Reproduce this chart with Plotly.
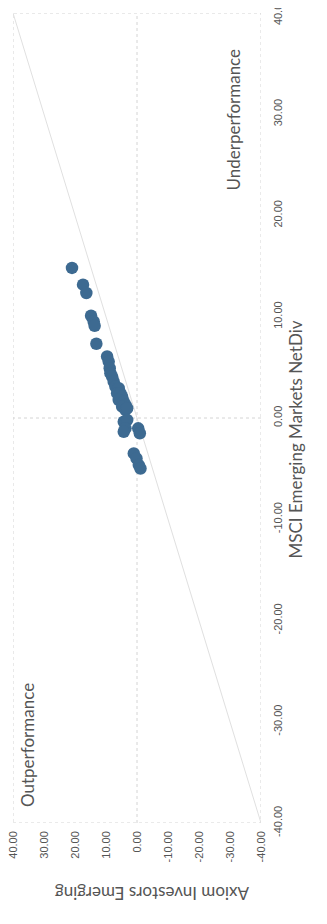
import plotly.graph_objects as go

# Data: (Axiom Investors Emerging, MSCI Emerging Markets NetDiv) return pairs
axiom = [20.97, 17.41, 16.34, 14.82, 13.98, 13.66, 13.11, 9.64, 9.13, 8.80, 8.58,
         8.03, 7.51, 6.96, 5.89, 6.41, 5.34, 4.79, 5.89, 4.27, 3.72, 4.79, 3.72,
         3.17, 4.27, 3.17, 3.72, 4.27, -0.39, -0.91, 1.04, 0.16, -0.58, -1.13]
msci = [14.82, 13.17, 12.35, 10.10, 9.53, 9.11, 7.33, 6.07, 5.57, 4.92, 4.43,
        4.09, 3.59, 3.10, 2.94, 2.45, 2.45, 2.11, 1.78, 1.61, 1.29, 1.12, 0.79,
        0.96, -0.37, -0.20, -1.02, -1.36, -1.02, -1.51, -3.50, -3.99, -4.65, -4.99]

diag_x = [-40, 40]
diag_y = [-40, 40]

tick_vals = [-40, -30, -20, -10, 0, 10, 20, 30, 40]
tick_text = ["-40.00", "-30.00", "-20.00", "-10.00", "0.00", "10.00", "20.00", "30.00", "40.00"]

x_title = "Axiom Investors Emerging"
y_title = "MSCI Emerging Markets NetDiv"
label_out = "Outperformance"
label_under = "Underperformance"

grid_col = "#d4d4d4"
title_font = "Lato"
tick_font = "Liberation Sans"
text_col = "#555555"

fig = go.Figure()
fig.add_trace(go.Scatter(x=diag_x, y=diag_y, mode="lines",
                         line=dict(color="#e0e0e0", width=1), hoverinfo="skip",
                         showlegend=False))
fig.add_trace(go.Scatter(x=axiom, y=msci, mode="markers",
                         marker=dict(color="#3d6a91", size=12.5, line=dict(width=0)),
                         showlegend=False))

# plot box and zero lines (dotted)
fig.add_shape(type="rect", xref="x", yref="y", x0=40, x1=-40, y0=-40, y1=40,
              line=dict(color=grid_col, width=1, dash="dot"), layer="below")
fig.add_shape(type="line", xref="x", yref="y", x0=0, x1=0, y0=-40, y1=40,
              line=dict(color=grid_col, width=1, dash="dot"), layer="below")
fig.add_shape(type="line", xref="x", yref="y", x0=-40, x1=40, y0=0, y1=0,
              line=dict(color=grid_col, width=1, dash="dot"), layer="below")

fig.add_annotation(x=35.5, y=-32.3, xref="x", yref="y", text=label_out,
                   textangle=-90, showarrow=False,
                   font=dict(family=title_font, size=17, color=text_col))
fig.add_annotation(x=-31.0, y=29.5, xref="x", yref="y", text=label_under,
                   textangle=-90, showarrow=False,
                   font=dict(family=title_font, size=17, color=text_col))

# page pixel positions (window coordinates) for the axis titles
page_titles = [(307, 440, y_title, -90), (152, 906, x_title, 180)]

OFF = 8  # default body margin of the written page
W, H = 327 - OFF, 924 - OFF
L, R, T, B = 13 - OFF, 66, 13 - OFF, 101
pw, ph = W - L - R, H - T - B
for px, py, txt, ang in page_titles:
    fig.add_annotation(x=(px - OFF - L) / pw, y=1 - (py - OFF - T) / ph,
                       xref="paper", yref="paper", text=txt, textangle=ang,
                       showarrow=False,
                       font=dict(family=title_font, size=17, color=text_col))

fig.update_layout(
    width=W, height=H,
    margin=dict(l=L, r=R, t=T, b=B, autoexpand=False),
    paper_bgcolor="white", plot_bgcolor="white",
    xaxis=dict(range=[40, -40], tickvals=tick_vals, ticktext=tick_text,
               tickangle=-90, showgrid=False, zeroline=False, showline=False,
               ticks="", automargin=False, ticklabeloverflow="allow",
               ticklabelstandoff=5,
               tickfont=dict(family=tick_font, size=11, color=text_col)),
    yaxis=dict(range=[-40, 40], tickvals=tick_vals, ticktext=tick_text,
               side="right", tickangle=-90, showgrid=False, zeroline=False,
               showline=False, ticks="", automargin=False, ticklabeloverflow="allow",
               ticklabelstandoff=9,
               tickfont=dict(family=tick_font, size=11, color=text_col)),
)

fig.write_html("out.html")
